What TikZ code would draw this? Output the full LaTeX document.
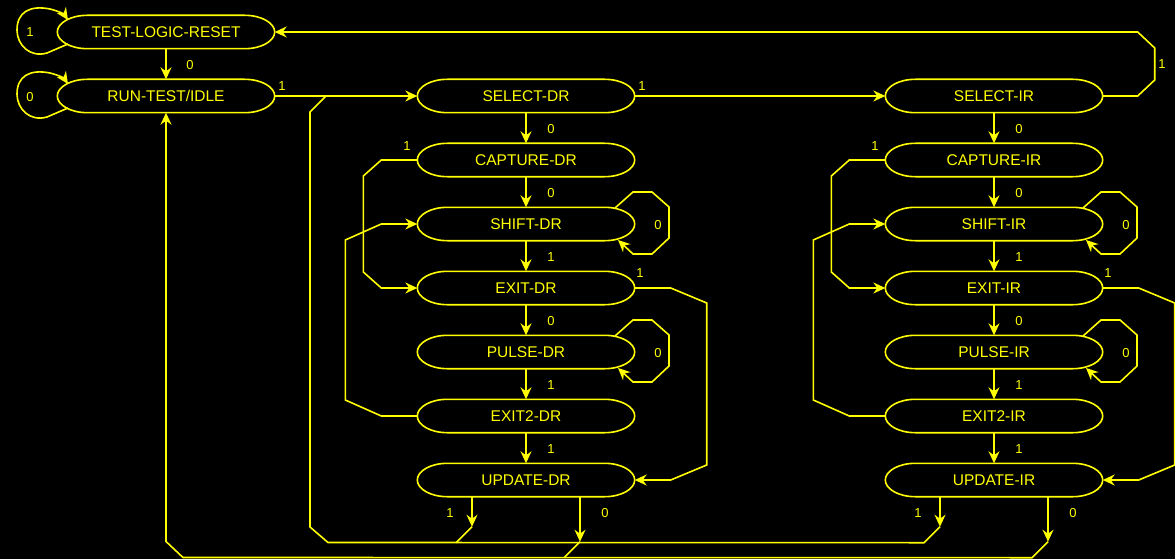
\documentclass[tikz,border=0pt]{standalone}
\usepackage{fontspec}
\setmainfont{Liberation Sans}
\usetikzlibrary{arrows.meta,calc}
\definecolor{jy}{RGB}{255,255,0}
\begin{document}
\begin{tikzpicture}[x=1pt,y=-1pt,
  wire/.style={draw=jy, line width=1.6pt},
  arr/.style={wire, -{Stealth[length=12pt,width=11pt,inset=4pt]}},
  state/.style={minimum width=217pt, minimum height=33pt, inner sep=0pt, text=jy, font=\fontsize{15.5}{18}\selectfont},
  lbl/.style={text=jy, font=\fontsize{13}{15}\selectfont, inner sep=0pt}]
\fill[black] (0,0) rectangle (1175,559);
\useasboundingbox (0,0) rectangle (1175,559);

% states
\node[state] (tlr) at (166,32) {TEST-LOGIC-RESET};
\node[state] (rti) at (166,96) {RUN-TEST/IDLE};
\foreach \c/\x in {DR/526,IR/994}{
  \node[state] (sel\c) at (\x,96) {SELECT-\c};
  \node[state] (cap\c) at (\x,160) {CAPTURE-\c};
  \node[state] (shf\c) at (\x,224) {SHIFT-\c};
  \node[state] (exa\c) at (\x,288) {EXIT-\c};
  \node[state] (pul\c) at (\x,352) {PULSE-\c};
  \node[state] (exb\c) at (\x,416) {EXIT2-\c};
  \node[state] (upd\c) at (\x,480) {UPDATE-\c};
}
% outlines
\foreach \n in {tlr,rti,selDR,capDR,shfDR,exaDR,pulDR,exbDR,updDR,selIR,capIR,shfIR,exaIR,pulIR,exbIR,updIR}{
  \draw[wire] ([xshift=30pt]\n.north west) -- ([xshift=-30pt]\n.north east)
    .. controls ([xshift=-13.4pt]\n.north east) and ([yshift=9.1pt]\n.east) .. (\n.east)
    .. controls ([yshift=-9.1pt]\n.east) and ([xshift=-13.4pt]\n.south east) .. ([xshift=-30pt]\n.south east)
    -- ([xshift=30pt]\n.south west)
    .. controls ([xshift=13.4pt]\n.south west) and ([yshift=-9.1pt]\n.west) .. (\n.west)
    .. controls ([yshift=9.1pt]\n.west) and ([xshift=13.4pt]\n.north west) .. cycle;
}

% left self loops
\foreach \n in {tlr,rti}{
  \begin{scope}[shift={(\n.center)}]
    \draw[arr] (-98,12) -- (-119,21) .. controls (-136,26) and (-149,13) .. (-149,-2)
      .. controls (-149,-20) and (-136,-27) .. (-116,-23)
      .. controls (-108,-21) and (-102,-18) .. (-98,-12);
  \end{scope}
}
\node[lbl] (ltlr) at (30,32) {1};
\node[lbl] (lrti) at (30,97) {0};

% top edges
\draw[arr] (tlr) -- (rti);
\node[lbl] (l0) at (190,65) {0};
\draw[arr] (rti) -- (selDR);
\node[lbl] (l1) at (282,86) {1};
\draw[arr] (selDR) -- (selIR);
\node[lbl] (l2) at (642,86) {1};
\draw[arr] (selIR.east) -- ++(35,0) -- ++(17,-16) -- ++(0,-32) -- ++(-17,-16) -- (tlr.east);
\node[lbl] (l3) at (1162,64) {1};

% column edges
\foreach \c/\x in {DR/526,IR/994}{
  \draw[arr] (sel\c) -- (cap\c);
  \draw[arr] (cap\c) -- (shf\c);
  \draw[arr] (shf\c) -- (exa\c);
  \draw[arr] (exa\c) -- (pul\c);
  \draw[arr] (pul\c) -- (exb\c);
  \draw[arr] (exb\c) -- (upd\c);
  \node[lbl] (va\c) at (\x+25,129) {0};
  \node[lbl] (vb\c) at (\x+25,193) {0};
  \node[lbl] (vc\c) at (\x+25,257) {1};
  \node[lbl] (vd\c) at (\x+25,321) {0};
  \node[lbl] (ve\c) at (\x+25,385) {1};
  \node[lbl] (vf\c) at (\x+25,449) {1};
  % capture -> exit
  \draw[arr] (cap\c.west) -- ++(-36,0) -- ++(-18,16) -- ($(exa\c.west)+(-54,-16)$) -- ++(18,16) -- (exa\c.west);
  \node[lbl] (lc\c) at (\x-119,146) {1};
  % exit2 -> shift
  \draw[arr] (exb\c.west) -- ++(-36,0) -- ++(-36,-16) -- ($(shf\c.west)+(-72,16)$) -- ++(36,-16) -- (shf\c.west);
  % exit -> update
  \draw[arr] (exa\c.east) -- ++(36,0) -- ++(36,15) -- ($(upd\c.east)+(72,-15)$) -- ++(-36,15) -- (upd\c.east);
  \node[lbl] (le\c) at (\x+114,273) {1};
  % self loops
  \foreach \n in {shf,pul}{
    \begin{scope}[shift={(\n\c.center)}]
      \draw[arr] (89,-16) -- (107,-32) -- (126,-32) -- (143,-17) -- (143,14) -- (126,30) -- (107,30) -- (92,16);
    \end{scope}
  }
  \node[lbl] (ls\c) at (\x+132,225) {0};
  \node[lbl] (lp\c) at (\x+132,353) {0};
  \node[lbl] (lu\c) at (\x-76,513) {1};
  \node[lbl] (lz\c) at (\x+79,513) {0};
}

% update exits
\draw[arr] ($(updDR.south)+(-54,0)$) -- ++(0,30) coordinate (u1);
\draw[wire] (u1) -- ++(-16,16);
\draw[arr] ($(updIR.south)+(-54,0)$) -- ++(0,30) coordinate (u3);
\draw[wire] (u3) -- ++(-16,16) -- (328,542.5) -- (310,527) -- (310,112) -- (326,96);
\draw[arr] ($(updDR.south)+(54,0)$) -- ++(0,45) coordinate (u2);
\draw[wire] (u2) -- ++(-16,16);
\draw[arr] ($(updIR.south)+(54,0)$) -- ++(0,45) coordinate (u4);
\draw[arr] (u4) -- ++(-16,16) -- (183,557.5) -- (166,541.5) -- (rti.south);
\end{tikzpicture}
\end{document}
